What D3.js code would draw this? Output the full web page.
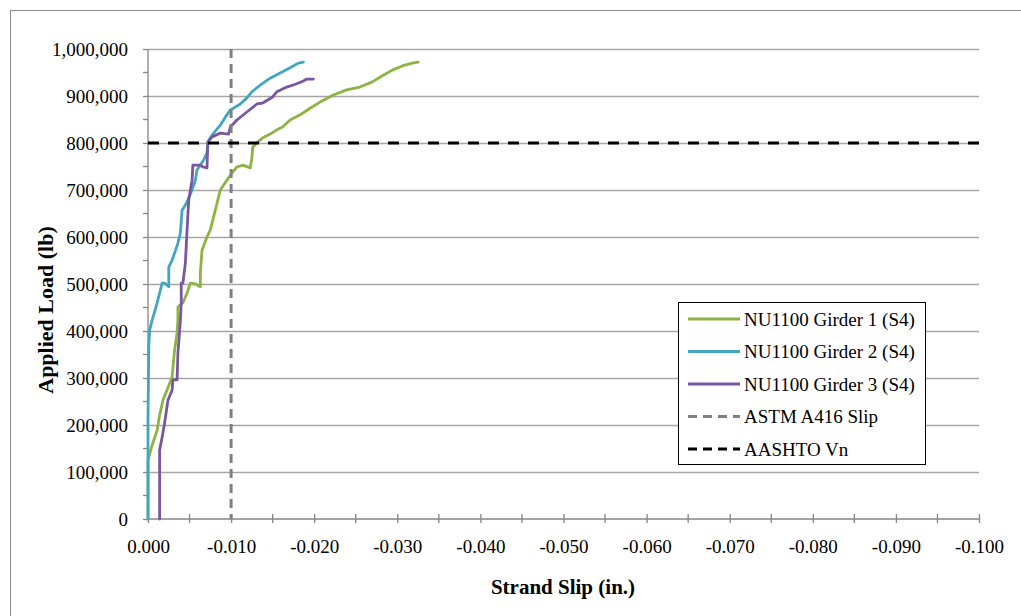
<!DOCTYPE html>
<html>
<head>
<meta charset="utf-8">
<script src="https://cdn.jsdelivr.net/npm/d3@7"></script>
<style>
  html, body { margin: 0; padding: 0; background: #ffffff; }
  svg { display: block; font-family: "Liberation Serif", "Times New Roman", serif; }
</style>
</head>
<body>
<svg id="chart" width="1021" height="616"></svg>
<script>
// ---------- data ----------
const xTicks = [0, -0.01, -0.02, -0.03, -0.04, -0.05, -0.06, -0.07, -0.08, -0.09, -0.1];
const yTicks = [0, 100000, 200000, 300000, 400000, 500000, 600000, 700000, 800000, 900000, 1000000];

const seriesNames = ["NU1100 Girder 1 (S4)", "NU1100 Girder 2 (S4)", "NU1100 Girder 3 (S4)"];
const refNames = ["ASTM A416 Slip", "AASHTO Vn"];

const girder1Slip = [0, 0, -0.0005, -0.0011, -0.0014, -0.0018, -0.0024, -0.0029, -0.0032, -0.0035, -0.0036, -0.0036, -0.0042, -0.0047, -0.0051, -0.0057, -0.0063, -0.0063, -0.0065, -0.0071, -0.0075, -0.0081, -0.0087, -0.0095, -0.0101, -0.0107, -0.0114, -0.0123, -0.0125, -0.0126, -0.0132, -0.0138, -0.0149, -0.0155, -0.0162, -0.0171, -0.0183, -0.0195, -0.0207, -0.0223, -0.0239, -0.0255, -0.0270, -0.0282, -0.0294, -0.0306, -0.0318, -0.0325];
const girder1Load = [0, 125000, 157000, 189000, 221000, 253000, 279000, 302000, 360000, 396000, 423000, 451000, 460000, 481000, 502000, 500000, 494000, 523000, 572000, 600000, 615000, 657000, 700000, 721000, 736000, 749000, 753000, 747000, 768000, 791000, 802000, 811000, 821000, 828000, 834000, 849000, 860000, 874000, 887000, 902000, 913000, 919000, 930000, 943000, 955000, 964000, 970000, 972000];

const girder2Slip = [0, 0, -0.0001, -0.0002, -0.0005, -0.0011, -0.0017, -0.0020, -0.0025, -0.0025, -0.0029, -0.0032, -0.0036, -0.0039, -0.0041, -0.0045, -0.0048, -0.0053, -0.0057, -0.0059, -0.0063, -0.0067, -0.0071, -0.0072, -0.0078, -0.0087, -0.0093, -0.0099, -0.0111, -0.0119, -0.0125, -0.0135, -0.0147, -0.0159, -0.0171, -0.0181, -0.0187];
const girder2Load = [0, 211000, 370000, 402000, 423000, 460000, 502000, 502000, 494000, 536000, 551000, 566000, 587000, 609000, 657000, 668000, 679000, 700000, 721000, 743000, 753000, 764000, 779000, 802000, 819000, 838000, 855000, 870000, 883000, 896000, 909000, 923000, 938000, 949000, 960000, 970000, 972000];

const girder3Slip = [-0.0014, -0.0014, -0.0017, -0.0020, -0.0024, -0.0029, -0.0030, -0.0035, -0.0036, -0.0039, -0.0040, -0.0040, -0.0042, -0.0045, -0.0047, -0.0049, -0.0053, -0.0054, -0.0063, -0.0066, -0.0071, -0.0072, -0.0077, -0.0087, -0.0097, -0.0099, -0.0107, -0.0119, -0.0131, -0.0138, -0.0150, -0.0155, -0.0167, -0.0179, -0.0187, -0.0191, -0.0199];
const girder3Load = [0, 147000, 174000, 204000, 253000, 274000, 296000, 296000, 353000, 423000, 460000, 502000, 502000, 545000, 615000, 679000, 721000, 753000, 753000, 749000, 747000, 802000, 813000, 821000, 819000, 834000, 849000, 866000, 883000, 885000, 898000, 909000, 919000, 926000, 932000, 936000, 936000];

const astmSlip = -0.01;     // vertical reference line
const aashtoVn = 800000;    // horizontal reference line

// ---------- layout ----------
const svg = d3.select("#chart");
const pLeft = 148, pRight = 979, pTop = 49, pBottom = 519;
const x = d3.scaleLinear().domain([0, -0.1]).range([pLeft, pRight]);
const y = d3.scaleLinear().domain([0, 1000000]).range([pBottom, pTop]);

const colors = ["#8db443", "#42a6c1", "#7856a0"];
const axisColor = "#868686";
const gridColor = "#a6a6a6";

// outer chart border
svg.append("rect").attr("x", 10.5).attr("y", 10.5).attr("width", 1100).attr("height", 700)
  .attr("fill", "none").attr("stroke", "#8c8c8c").attr("stroke-width", 1);

// gridlines
svg.append("g").selectAll("line").data(yTicks.filter(d => d > 0)).join("line")
  .attr("x1", pLeft).attr("x2", pRight)
  .attr("y1", d => Math.round(y(d)) + 0.5).attr("y2", d => Math.round(y(d)) + 0.5)
  .attr("stroke", gridColor).attr("stroke-width", 1.3);

// y axis
const yAxis = d3.axisLeft(y).tickValues(yTicks).tickFormat(d3.format(",")).tickSize(5).tickPadding(15);
const gy = svg.append("g").attr("transform", `translate(${pLeft},0)`).call(yAxis);
gy.append("g").selectAll("line").data(d3.range(50000, 1000000, 100000)).join("line")
  .attr("x1", -5).attr("x2", 0).attr("y1", d => y(d)).attr("y2", d => y(d))
  .attr("stroke", axisColor).attr("stroke-width", 1.3);

// x axis
const xAxis = d3.axisBottom(x).tickValues(xTicks).tickFormat(d => d.toFixed(3)).tickSize(4).tickPadding(17);
const gx = svg.append("g").attr("transform", `translate(0,${pBottom})`).call(xAxis);
gx.selectAll(".tick line").attr("y1", -5);
gx.append("g").selectAll("line").data(d3.range(0, 10).map(i => -0.005 - i * 0.01)).join("line")
  .attr("x1", d => x(d)).attr("x2", d => x(d)).attr("y1", -5).attr("y2", 4)
  .attr("stroke", axisColor).attr("stroke-width", 1.3);

[gx, gy].forEach(g => {
  g.select(".domain").attr("stroke", axisColor).attr("stroke-width", 1.3);
  g.selectAll(".tick line").attr("stroke", axisColor).attr("stroke-width", 1.3);
  g.selectAll(".tick text").attr("font-family", "Liberation Serif").attr("font-size", 19).attr("fill", "#000");
});
gx.select(".domain").attr("d", `M${pLeft},0H${pRight}`);
gy.select(".domain").attr("d", `M0,${pBottom}V${pTop}`);

// series
const line = d3.line().x(d => x(d[0])).y(d => y(d[1]));
const series = [
  d3.zip(girder1Slip, girder1Load),
  d3.zip(girder2Slip, girder2Load),
  d3.zip(girder3Slip, girder3Load)
];
svg.append("g").selectAll("path").data(series).join("path")
  .attr("d", line).attr("fill", "none")
  .attr("stroke", (d, i) => colors[i]).attr("stroke-width", 2.8)
  .attr("stroke-linejoin", "round").attr("stroke-linecap", "round");

// reference lines
svg.append("line").attr("x1", x(astmSlip)).attr("x2", x(astmSlip)).attr("y1", pTop).attr("y2", pBottom)
  .attr("stroke", "#808080").attr("stroke-width", 3).attr("stroke-dasharray", "9,6");
svg.append("line").attr("x1", pLeft).attr("x2", pRight).attr("y1", y(aashtoVn)).attr("y2", y(aashtoVn))
  .attr("stroke", "#000").attr("stroke-width", 3).attr("stroke-dasharray", "11,9");

// axis titles
svg.append("text").attr("x", 563).attr("y", 594).attr("text-anchor", "middle")
  .attr("font-weight", "bold").attr("font-size", 21).text("Strand Slip (in.)");
svg.append("text").attr("transform", "translate(53,310) rotate(-90)").attr("text-anchor", "middle")
  .attr("font-weight", "bold").attr("font-size", 22).text("Applied Load (lb)");

// legend
const legendItems = [
  { name: seriesNames[0], color: colors[0], dash: null },
  { name: seriesNames[1], color: colors[1], dash: null },
  { name: seriesNames[2], color: colors[2], dash: null },
  { name: refNames[0], color: "#808080", dash: "9,6" },
  { name: refNames[1], color: "#000", dash: "9,6" }
];
const lg = svg.append("g");
lg.append("rect").attr("x", 678.5).attr("y", 302.5).attr("width", 247).attr("height", 162)
  .attr("fill", "#fff").attr("stroke", "#000").attr("stroke-width", 1);
const rows = lg.selectAll("g.row").data(legendItems).join("g").attr("class", "row")
  .attr("transform", (d, i) => `translate(0,${319 + i * 32.5})`);
rows.append("line").attr("x1", 688).attr("x2", 740).attr("y1", 0).attr("y2", 0)
  .attr("stroke", d => d.color).attr("stroke-width", 2.8)
  .attr("stroke-dasharray", d => d.dash);
rows.append("text").attr("x", 744).attr("y", 6.5).attr("font-size", 19).text(d => d.name);
</script>
</body>
</html>
